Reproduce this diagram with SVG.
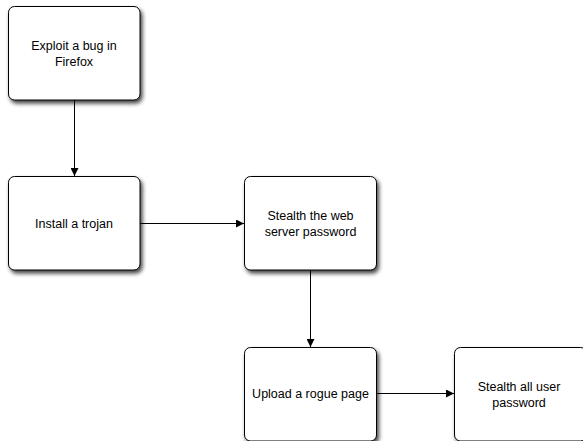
<svg xmlns="http://www.w3.org/2000/svg" width="583" height="441" viewBox="0 0 583 441">
  <style>
    .box { fill: #ffffff; stroke: #000000; stroke-width: 1; filter: url(#shadow); }
    .label { font-family: "Liberation Sans", Arial, Helvetica, sans-serif; font-size: 12.5px; fill: #000000; text-anchor: middle; }
    .edge { stroke: #000000; stroke-width: 1; fill: none; marker-end: url(#arrow); }
  </style>
  <defs>
    <filter id="shadow" x="-10%" y="-10%" width="130%" height="130%">
      <feDropShadow dx="2" dy="3" stdDeviation="2" flood-color="#000000" flood-opacity="0.75"/>
    </filter>
    <marker id="arrow" viewBox="0 0 10 10" refX="10" refY="5" markerWidth="8" markerHeight="8" markerUnits="userSpaceOnUse" orient="auto">
      <path d="M0,0 L10,5 L0,10 Z" fill="#000000"/>
    </marker>
  </defs>
  <rect width="583" height="441" fill="#ffffff"/>

  <g id="connectors">
    <line class="edge" x1="74.5" y1="100" x2="74.5" y2="176"/>
    <line class="edge" x1="140" y1="223.5" x2="244" y2="223.5"/>
    <line class="edge" x1="310.5" y1="270" x2="310.5" y2="347"/>
    <line class="edge" x1="377" y1="393.5" x2="454" y2="393.5"/>
  </g>

  <g id="exploit">
    <rect class="box" x="8.5" y="6.5" width="131.5" height="93.5" rx="6"/>
    <text class="label" x="74" y="50">Exploit a bug in</text>
    <text class="label" x="74" y="66">Firefox</text>
  </g>

  <g id="trojan">
    <rect class="box" x="8.5" y="176.5" width="131.5" height="93.5" rx="6"/>
    <text class="label" x="74" y="228">Install a trojan</text>
  </g>

  <g id="webpass">
    <rect class="box" x="244.5" y="176.5" width="132" height="93.5" rx="6"/>
    <text class="label" x="310.5" y="220">Stealth the web</text>
    <text class="label" x="310.5" y="236">server password</text>
  </g>

  <g id="rogue">
    <rect class="box" x="244.5" y="347.5" width="132" height="93.5" rx="6"/>
    <text class="label" x="310.5" y="398">Upload a rogue page</text>
  </g>

  <g id="userpass">
    <rect class="box" x="454.5" y="347.5" width="132" height="93.5" rx="6"/>
    <text class="label" x="519" y="391">Stealth all user</text>
    <text class="label" x="519" y="407">password</text>
  </g>
</svg>
